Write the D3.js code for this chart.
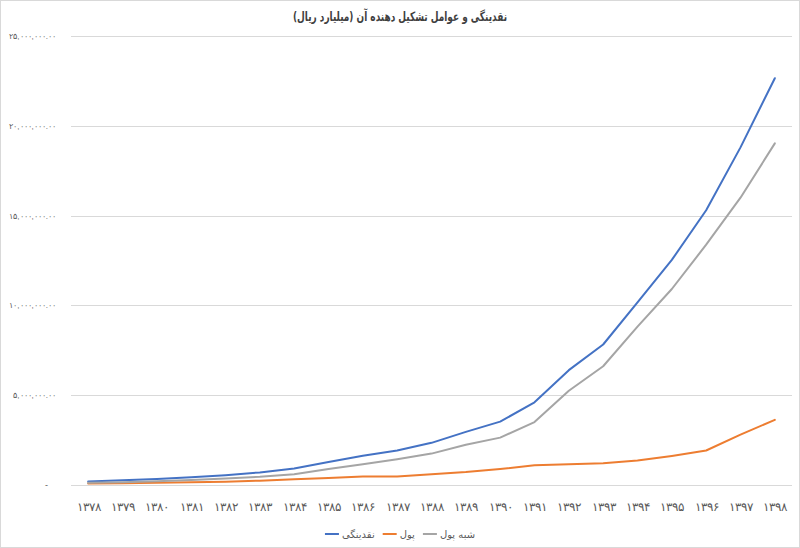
<!DOCTYPE html>
<html>
<head>
<meta charset="utf-8">
<script src="https://cdn.jsdelivr.net/npm/d3@7"></script>
<style>
  html, body { margin: 0; padding: 0; background: #fff; }
  svg { display: block; font-family: "DejaVu Sans", "Noto Sans", sans-serif; }
</style>
</head>
<body>
<svg id="chart" width="800" height="548"></svg>
<script>
// ---- data (billion rials) ----
const years = ["1378","1379","1380","1381","1382","1383","1384","1385","1386","1387","1388","1389","1390","1391","1392","1393","1394","1395","1396","1397","1398"];
const liquidity = [199000, 259000, 332000, 432000, 547000, 702000, 921000, 1284000, 1626000, 1917000, 2348000, 2957000, 3527000, 4602000, 6395000, 7823000, 10175000, 12533000, 15299000, 18798000, 22650000];
const money = [80000, 100000, 120000, 150000, 180000, 240000, 320000, 390000, 470000, 480000, 600000, 720000, 890000, 1100000, 1150000, 1210000, 1360000, 1620000, 1920000, 2800000, 3630000];
const quasiMoney = [119000, 159000, 212000, 282000, 367000, 462000, 601000, 894000, 1156000, 1437000, 1748000, 2237000, 2637000, 3502000, 5245000, 6613000, 8815000, 10913000, 13379000, 15998000, 19020000];
const yTicks = [0, 5000000, 10000000, 15000000, 20000000, 25000000];
const seriesNames = ["نقدینگی", "پول", "شبه پول"];
const seriesColors = ["#4472C4", "#ED7D31", "#A5A5A5"];
const title = "نقدینگی و عوامل تشکیل دهنده آن (میلیارد ریال)";

const series = [liquidity, money, quasiMoney];

const faDigits = "۰۱۲۳۴۵۶۷۸۹";
const toFa = s => String(s).replace(/[0-9]/g, d => faDigits[+d]);

const svg = d3.select("#chart");
const W = 800, H = 548;
const mLeft = 71, mRight = 792, mTop = 36, mBottom = 485;

// chart border
svg.append("rect").attr("x", 0.5).attr("y", 0.5).attr("width", W - 1).attr("height", H - 1)
  .attr("fill", "#fff").attr("stroke", "#d9d9d9");

const x = d3.scalePoint().domain(years).range([mLeft, mRight]).padding(0.5);
const y = d3.scaleLinear().domain([0, 25000000]).range([mBottom, mTop]);

// gridlines
svg.append("g").selectAll("line").data(yTicks).join("line")
  .attr("x1", mLeft).attr("x2", mRight)
  .attr("y1", d => Math.round(y(d)) + 0.5).attr("y2", d => Math.round(y(d)) + 0.5)
  .attr("stroke", "#d9d9d9").attr("stroke-width", 1);

// y axis labels
const yAxis = d3.axisLeft(y).tickValues(yTicks).tickSize(0)
  .tickFormat(d => d === 0 ? "-" : toFa(d3.format(",.2f")(d)));
const ya = svg.append("g").attr("transform", `translate(59,0)`).call(yAxis);
ya.select(".domain").remove();
ya.selectAll("text").attr("fill", "#595959").attr("font-size", 9)
  .attr("direction", "ltr").style("unicode-bidi", "plaintext");
// fit the widest label into the space the reference uses (~50px)
let maxW = 0;
ya.selectAll("text").each(function () { maxW = Math.max(maxW, this.getComputedTextLength()); });
const fs = Math.min(9, 9 * 51 / maxW);
ya.selectAll("text").attr("font-size", fs);
ya.selectAll(".tick").filter(d => d === 0).select("text").attr("x", -11).attr("font-size", 9);

// x axis labels
const xAxis = d3.axisBottom(x).tickSize(0).tickFormat(d => toFa(d));
const xa = svg.append("g").attr("transform", `translate(0,${mBottom})`).call(xAxis);
xa.select(".domain").remove();
xa.selectAll("text").attr("fill", "#595959").attr("font-size", 12).attr("dy", "1.9em");

// lines
const line = d3.line().x((d, i) => x(years[i])).y(d => y(d));
svg.append("g").selectAll("path").data(series).join("path")
  .attr("d", d => line(d))
  .attr("fill", "none")
  .attr("stroke", (d, i) => seriesColors[i])
  .attr("stroke-width", 2)
  .attr("stroke-linejoin", "round")
  .attr("stroke-linecap", "round");

// title
const tt = svg.append("text").attr("x", 400).attr("y", 21).attr("text-anchor", "middle")
  .attr("font-size", 13).attr("font-weight", "bold").attr("fill", "#404040")
  .text(title);
const tw = tt.node().getComputedTextLength();
if (tw > 214) tt.attr("textLength", 214).attr("lengthAdjust", "spacingAndGlyphs");

// legend
const lg = svg.append("g");
let cx = 0;
const lineLen = 14;
seriesNames.forEach((name, i) => {
  const g = lg.append("g").attr("transform", `translate(${cx},0)`);
  g.append("line").attr("x1", 0).attr("x2", lineLen).attr("y1", 0).attr("y2", 0)
    .attr("stroke", seriesColors[i]).attr("stroke-width", 2);
  const t = g.append("text").attr("x", lineLen + 3).attr("y", 4)
    .attr("font-size", 10).attr("fill", "#595959").text(name);
  const w = t.node().getComputedTextLength();
  cx += lineLen + 3 + w + 8;
});
const totalW = cx - 8;
lg.attr("transform", `translate(${400 - totalW / 2},${534})`);
</script>
</body>
</html>
